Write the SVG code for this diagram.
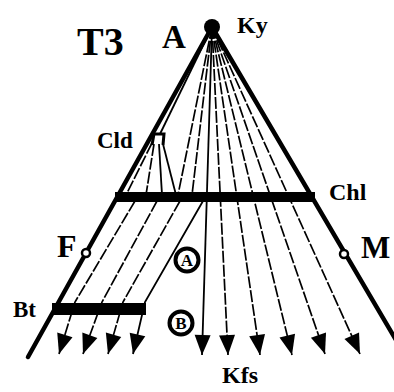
<svg xmlns="http://www.w3.org/2000/svg" width="394" height="392" viewBox="0 0 394 392">
<style>
.lbl{font-family:"Liberation Serif","Times New Roman",serif;font-weight:bold;fill:#000}
.edge{stroke:#000;stroke-width:4.5;fill:none;stroke-linecap:round}
.ray{stroke:#000;stroke-width:1.7;fill:none;stroke-dasharray:12 2}
.sol{stroke:#000;stroke-width:1.8;fill:none}
.bar{fill:#000}
.ring{fill:#fff;stroke:#000;stroke-width:4}
</style>
<defs>
<marker id="ah" markerUnits="userSpaceOnUse" markerWidth="22" markerHeight="18" refX="20" refY="8" orient="auto" overflow="visible">
<path d="M0,0 L20,8 L0,16 Z" fill="#000"/>
</marker>
</defs>
<rect width="394" height="392" fill="#fff"/>
<g id="connectors">
<line class="edge" x1="212" y1="27" x2="28" y2="357"/>
<line class="edge" x1="212" y1="27" x2="406" y2="357"/>
<line class="sol" x1="212" y1="27" x2="202" y2="355" marker-end="url(#ah)"/>
<line class="ray" x1="212" y1="27" x2="228" y2="355" marker-end="url(#ah)"/>
<line class="ray" x1="212" y1="27" x2="260" y2="355" marker-end="url(#ah)"/>
<line class="ray" x1="212" y1="27" x2="292" y2="355" marker-end="url(#ah)"/>
<line class="ray" x1="212" y1="27" x2="325" y2="354" marker-end="url(#ah)"/>
<line class="ray" x1="212" y1="27" x2="360" y2="354" marker-end="url(#ah)"/>
<line class="ray" x1="212" y1="27" x2="178" y2="195"/>
<line class="ray" x1="212" y1="27" x2="192" y2="195"/>
<line class="sol" x1="212" y1="27" x2="160" y2="134"/>
<line class="ray" x1="152" y1="143" x2="126" y2="195"/>
<line class="ray" x1="154" y1="144" x2="146" y2="195"/>
<line class="sol" x1="159" y1="144" x2="162" y2="195"/>
<line class="sol" x1="163" y1="144" x2="176" y2="195"/>
<polyline class="ray" points="135,201 75,302 59,354" marker-end="url(#ah)"/>
<polyline class="ray" points="157,201 102,302 83,354" marker-end="url(#ah)"/>
<polyline class="ray" points="180,201 123,302 108,354" marker-end="url(#ah)"/>
<polyline class="sol" points="203,201 145,302 133,354" marker-end="url(#ah)"/>
</g>
<g id="Chl">
<rect class="bar" x="115" y="192" width="200" height="10"/>
<text class="lbl" x="329" y="200" font-size="24">Chl</text>
</g>
<g id="Bt">
<rect class="bar" x="52" y="303" width="94" height="12"/>
<text class="lbl" x="13" y="317" font-size="23">Bt</text>
</g>
<g id="Cld">
<path d="M152,145 L154,134 L164,134 L163,145" fill="none" stroke="#000" stroke-width="3"/>
<text class="lbl" x="97" y="148" font-size="23">Cld</text>
</g>
<g id="apex">
<circle cx="212" cy="27" r="8" fill="#000"/>
<text class="lbl" x="162" y="48" font-size="33">A</text>
<text class="lbl" x="237" y="33" font-size="24">Ky</text>
</g>
<g id="T3">
<text class="lbl" x="77" y="55" font-size="40">T3</text>
</g>
<g id="F">
<circle cx="86" cy="253" r="4" fill="#fff" stroke="#000" stroke-width="2.5"/>
<text class="lbl" x="57" y="257" font-size="32">F</text>
</g>
<g id="M">
<circle cx="344" cy="254" r="4" fill="#fff" stroke="#000" stroke-width="2.5"/>
<text class="lbl" x="361" y="258" font-size="31">M</text>
</g>
<g id="circA">
<circle class="ring" cx="187" cy="260" r="11.5"/>
<text class="lbl" x="187" y="266" font-size="17" text-anchor="middle">A</text>
</g>
<g id="circB">
<circle class="ring" cx="181" cy="323" r="11.5"/>
<text class="lbl" x="181" y="329" font-size="17" text-anchor="middle">B</text>
</g>
<g id="Kfs">
<text class="lbl" x="222" y="383" font-size="24">Kfs</text>
</g>
</svg>
